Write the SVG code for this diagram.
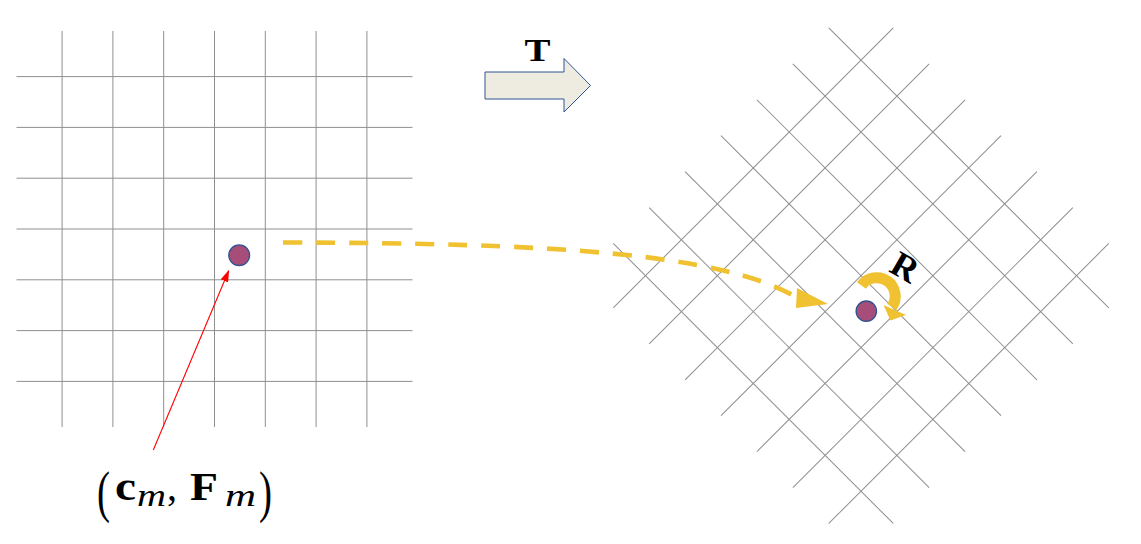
<svg xmlns="http://www.w3.org/2000/svg" xmlns:xlink="http://www.w3.org/1999/xlink" width="1141" height="544" viewBox="0 0 1141 544">
<style>
.grid line{stroke:#8f8f8f;stroke-width:1;fill:none}
.dot{fill:#A64D79;stroke:#2F528F;stroke-width:1.3}
.math{font-family:"Liberation Serif","DejaVu Serif",serif;fill:#000}
.bold{font-weight:bold}
.it{font-style:italic}
.gold{fill:#F0C131}
</style>
<defs>
<g id="grid" class="grid">
<line x1="-152.4" y1="-198" x2="-152.4" y2="198"/>
<line x1="-101.6" y1="-198" x2="-101.6" y2="198"/>
<line x1="-50.8" y1="-198" x2="-50.8" y2="198"/>
<line x1="0" y1="-198" x2="0" y2="198"/>
<line x1="50.8" y1="-198" x2="50.8" y2="198"/>
<line x1="101.6" y1="-198" x2="101.6" y2="198"/>
<line x1="152.4" y1="-198" x2="152.4" y2="198"/>
<line x1="-198" y1="-152.4" x2="198" y2="-152.4"/>
<line x1="-198" y1="-101.6" x2="198" y2="-101.6"/>
<line x1="-198" y1="-50.8" x2="198" y2="-50.8"/>
<line x1="-198" y1="0" x2="198" y2="0"/>
<line x1="-198" y1="50.8" x2="198" y2="50.8"/>
<line x1="-198" y1="101.6" x2="198" y2="101.6"/>
<line x1="-198" y1="152.4" x2="198" y2="152.4"/>
</g>
<marker id="redhead" markerWidth="12" markerHeight="8" refX="11" refY="4" orient="auto" markerUnits="userSpaceOnUse">
<path d="M0,0 L12,4 L0,8 Z" fill="#FF0000"/>
</marker>
</defs>
<rect width="1141" height="544" fill="#FFFFFF"/>

<g id="left-grid">
<use xlink:href="#grid" href="#grid" transform="translate(214.5,229)"/>
</g>

<g id="right-grid">
<use xlink:href="#grid" href="#grid" transform="translate(861,275.7) rotate(45)"/>
</g>

<g id="transform-arrow">
<polygon points="485,72 564,72 564,58.5 590.5,85.5 564,112 564,99 485,99" fill="#EEECE1" stroke="#2F5597" stroke-width="1"/>
<text class="math bold" x="537.5" y="61" font-size="32" text-anchor="middle" textLength="26" lengthAdjust="spacingAndGlyphs">T</text>
</g>

<g id="point-left">
<circle class="dot" cx="239.2" cy="255.3" r="10.4"/>
</g>

<g id="point-right">
<circle class="dot" cx="866.3" cy="311.2" r="10.2"/>
</g>

<g id="label">
<text class="math" font-size="38" y="500">
<tspan x="97" y="511" font-size="58" font-weight="normal" textLength="13" lengthAdjust="spacingAndGlyphs">(</tspan>
<tspan class="bold" x="115" y="500" font-size="40" textLength="21" lengthAdjust="spacingAndGlyphs">c</tspan>
<tspan class="it" x="137" y="506" font-size="32" textLength="29" lengthAdjust="spacingAndGlyphs">m</tspan>
<tspan x="167" y="500" font-size="40">,</tspan>
<tspan class="bold" x="190" y="500" font-size="40" textLength="28" lengthAdjust="spacingAndGlyphs">F</tspan>
<tspan class="it" x="225" y="506" font-size="32" textLength="31" lengthAdjust="spacingAndGlyphs">m</tspan>
<tspan x="259" y="511" font-size="58" font-weight="normal" textLength="13" lengthAdjust="spacingAndGlyphs">)</tspan>
</text>
</g>

<g id="rotation-label">
<text class="math bold" x="0" y="12" font-size="36" text-anchor="middle" transform="translate(905,267) rotate(30)">R</text>
</g>

<g id="connectors">
<line x1="153.3" y1="450" x2="228.7" y2="270.7" stroke="#FF0000" stroke-width="1.1" marker-end="url(#redhead)"/>
<path d="M283,242.5 C550,243 720,253 796,297" fill="none" stroke="#F0C131" stroke-width="4.6" stroke-dasharray="19 14"/>
<polygon class="gold" points="797,288 796,308 828,304"/>
<path d="M861.5,285.5 A18.5,18.5 0 0 1 891.8,307" fill="none" stroke="#F0C131" stroke-width="11"/>
<polygon class="gold" points="883.5,305 906,315 890.5,320.5"/>
</g>
</svg>
